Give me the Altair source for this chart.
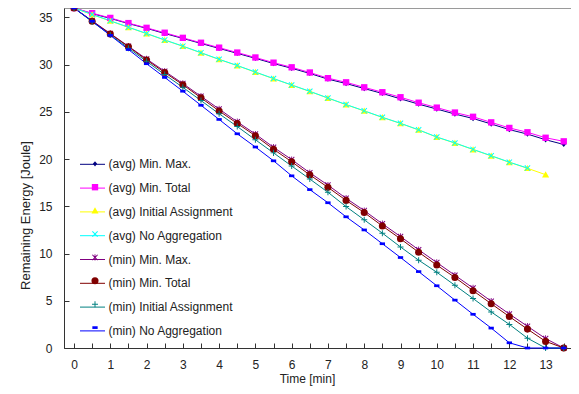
import altair as alt
import pandas as pd

# ---------------- data ----------------
series_names = [
    "(avg) Min. Max.",
    "(avg) Min. Total",
    "(avg) Initial Assignment",
    "(avg) No Aggregation",
    "(min) Min. Max.",
    "(min) Min. Total",
    "(min) Initial Assignment",
    "(min) No Aggregation",
]

times = [0, 0.5, 1, 1.5, 2, 2.5, 3, 3.5, 4, 4.5, 5, 5.5, 6, 6.5, 7, 7.5,
         8, 8.5, 9, 9.5, 10, 10.5, 11, 11.5, 12, 12.5, 13, 13.5]

avg_min_max = [36.0, 35.4, 34.9, 34.35, 33.85, 33.3, 32.78, 32.25, 31.72, 31.2,
               30.67, 30.12, 29.62, 29.07, 28.47, 28.0, 27.47, 26.95, 26.38, 25.82,
               25.3, 24.77, 24.3, 23.72, 23.12, 22.65, 22.05, 21.55]
avg_min_total = [36.0, 35.45, 34.95, 34.4, 33.9, 33.38, 32.84, 32.32, 31.8, 31.28,
                 30.76, 30.21, 29.72, 29.17, 28.57, 28.13, 27.6, 27.08, 26.55, 25.97,
                 25.45, 24.93, 24.48, 23.89, 23.3, 22.84, 22.26, 21.88]
avg_initial = [36.0, 35.3, 34.62, 33.95, 33.28, 32.6, 31.95, 31.25, 30.55, 29.9,
               29.2, 28.51, 27.84, 27.16, 26.46, 25.76, 25.1, 24.41, 23.78, 23.09,
               22.32, 21.7, 21.01, 20.34, 19.66, 19.03, 18.35]
avg_no_agg = [36.0, 35.32, 34.65, 33.97, 33.3, 32.62, 31.96, 31.27, 30.57, 29.91,
              29.22, 28.53, 27.85, 27.18, 26.47, 25.78, 25.11, 24.43, 23.79, 23.1,
              22.34, 21.71, 21.03, 20.36, 19.68, 19.05]
min_min_max = [36.0, 34.65, 33.3, 31.95, 30.6, 29.3, 28.0, 26.65, 25.3, 23.95,
               22.65, 21.25, 19.95, 18.55, 17.25, 15.85, 14.55, 13.15, 11.8, 10.4,
               9.05, 7.7, 6.35, 4.95, 3.6, 2.3, 1.0, 0.0]
min_min_total = [36.0, 34.6, 33.25, 31.9, 30.5, 29.17, 27.88, 26.49, 25.1, 23.78,
                 22.47, 21.04, 19.72, 18.33, 17.01, 15.63, 14.34, 12.92, 11.56, 10.14,
                 8.78, 7.47, 6.07, 4.69, 3.33, 2.0, 0.7, 0.0]
min_initial = [36.0, 34.55, 33.15, 31.75, 30.35, 28.95, 27.6, 26.2, 24.8, 23.45,
               22.05, 20.66, 19.27, 17.89, 16.49, 14.97, 13.57, 12.16, 10.7, 9.3,
               8.02, 6.64, 5.24, 3.82, 2.5, 1.04, 0.0, 0.0]
min_no_agg = [36.0, 34.6, 33.1, 31.6, 30.1, 28.65, 27.19, 25.7, 24.2, 22.68,
              21.28, 19.82, 18.23, 16.77, 15.38, 13.89, 12.5, 11.04, 9.58, 8.09,
              6.59, 5.07, 3.57, 2.11, 0.55, 0.0, 0.0, 0.0]

x_ticks = [0, 0.5, 1, 1.5, 2, 2.5, 3, 3.5, 4, 4.5, 5, 5.5, 6, 6.5, 7, 7.5,
           8, 8.5, 9, 9.5, 10, 10.5, 11, 11.5, 12, 12.5, 13, 13.5]
y_ticks = [0, 5, 10, 15, 20, 25, 30, 35]

# ---------------- styles ----------------
colors = ["#000080", "#ff00ff", "#ffff00", "#00ffff",
          "#800080", "#800000", "#008080", "#0000ff"]
X_PATH = ("M-0.85,-0.65L-0.65,-0.85L0,-0.2L0.65,-0.85L0.85,-0.65L0.2,0"
          "L0.85,0.65L0.65,0.85L0,0.2L-0.65,0.85L-0.85,0.65L-0.2,0Z")
shapes = [
    "M0,-0.75L0.6,0L0,0.75L-0.6,0Z",
    "M-0.9,-0.9H0.9V0.9H-0.9Z",
    "M0,-0.95L1,0.8H-1Z",
    X_PATH,
    X_PATH + "M-0.12,-0.9H0.12V0.9H-0.12Z",
    "circle",
    "M-0.85,-0.14H0.85V0.14H-0.85ZM-0.14,-0.85H0.14V0.85H-0.14Z",
    "M-0.75,-0.38H0.75V0.38H-0.75Z",
]

all_values = [avg_min_max, avg_min_total, avg_initial, avg_no_agg,
              min_min_max, min_min_total, min_initial, min_no_agg]
rows = []
for i, (name, vals) in enumerate(zip(series_names, all_values)):
    for t, v in zip(times, vals):
        rows.append({"time": t, "energy": v, "series": name,
                     "series_l": name, "order": i})
df = pd.DataFrame(rows)

FONT = "Liberation Sans"
TXT = "#222222"

x_enc = alt.X("time:Q",
              scale=alt.Scale(domain=[-0.276, 13.70], nice=False, zero=False),
              axis=alt.Axis(values=x_ticks,
                            labelExpr="datum.value % 1 == 0 ? format(datum.value, 'd') : ''",
                            title="Time [min]", titleX=243, titleY=30,
                            titleBaseline="middle", titleFontSize=12,
                            titleFontWeight="normal",
                            labelFontSize=12, labelPadding=16,
                            tickSize=alt.ExprRef(expr="-5"),
                            labelFlush=False, labelOverlap=False, grid=False))
y_enc = alt.Y("energy:Q",
              scale=alt.Scale(domain=[0, 36], nice=False, zero=False),
              axis=alt.Axis(values=y_ticks, title="Remaining Energy [Joule]",
                            titleX=-38.5, titleY=207, titleAngle=270,
                            titleBaseline="middle", titleFontSize=13,
                            titleFontWeight="normal",
                            labelFontSize=12, labelPadding=17,
                            tickSize=alt.ExprRef(expr="-5"),
                            grid=False))

lines = alt.Chart(df).mark_line(strokeWidth=1).encode(
    x=x_enc, y=y_enc,
    stroke=alt.Stroke("series_l:N",
                      sort=alt.EncodingSortField(field="order", op="min"),
                      scale=alt.Scale(range=colors),
                      legend=alt.Legend(orient="none", legendX=15.5, legendY=143.3,
                                        direction="vertical", title=None,
                                        symbolType="stroke", symbolSize=625,
                                        symbolStrokeWidth=1, labelFontSize=12,
                                        labelFont=FONT, labelColor=TXT,
                                        labelOffset=3, rowPadding=4.8, padding=0,
                                        labelLimit=300)),
    order=alt.Order("time:Q"),
)

points = alt.Chart(df).mark_point(filled=True, size=50, opacity=1).encode(
    x=x_enc, y=y_enc,
    color=alt.Color("series:N",
                    scale=alt.Scale(domain=series_names, range=colors),
                    legend=alt.Legend(orient="none", legendX=25, legendY=149.8,
                                      direction="vertical", title=None,
                                      symbolSize=50, symbolStrokeWidth=0,
                                      labelExpr="''", labelFontSize=12,
                                      labelFont=FONT, labelOffset=3,
                                      rowPadding=11.4, padding=0, labelLimit=300)),
    shape=alt.Shape("series:N",
                    scale=alt.Scale(domain=series_names, range=shapes)),
)

chart = (
    alt.layer(lines, points)
    .properties(width=507, height=340,
                autosize=alt.AutoSizeParams(type="none"),
                padding={"left": 56, "top": 0, "right": 0, "bottom": 38})
    .configure(font=FONT)
    .configure_view(stroke="#9a9a9a", strokeWidth=1)
    .configure_axis(domainColor="#333333", tickColor="#333333",
                    labelColor=TXT, titleColor=TXT, labelFont=FONT,
                    titleFont=FONT)
)

chart.save("out.html", embed_options={"renderer": "svg", "actions": False})
